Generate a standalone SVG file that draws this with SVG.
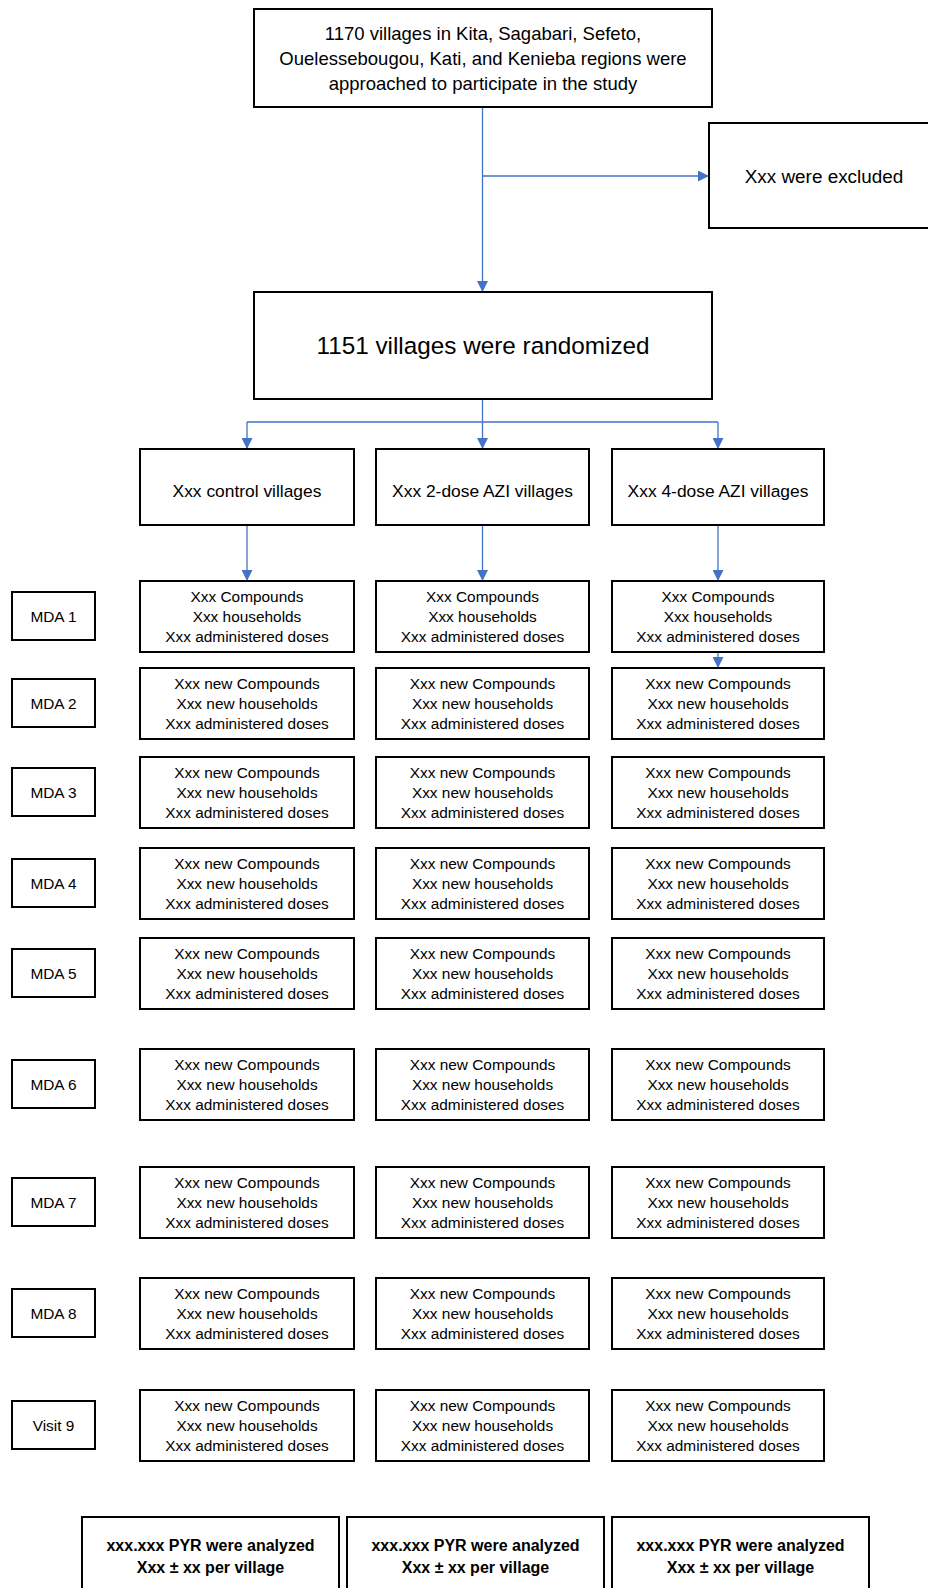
<svg xmlns="http://www.w3.org/2000/svg" width="928" height="1588" viewBox="0 0 928 1588">
<defs>
<marker id="arr" markerUnits="userSpaceOnUse" markerWidth="11" markerHeight="11" refX="11" refY="5.5" orient="auto">
<path d="M0,0 L11,5.5 L0,11 z" fill="#4472C4"/>
</marker>
<style>
.box{fill:#fff;stroke:#000;stroke-width:2}
.t{font-family:"Liberation Sans",Arial,sans-serif;fill:#000;text-anchor:middle}
.s{font-size:15.4px}
.g{font-size:17.4px}
.b{font-size:16px;font-weight:bold}
.c{fill:none;stroke:#4472C4;stroke-width:1.3}
</style>
</defs>
<rect width="928" height="1588" fill="#fff"/>

<g id="connectors">
<path class="c" d="M482.5,107 V292" marker-end="url(#arr)"/>
<path class="c" d="M482.5,176 H709" marker-end="url(#arr)"/>
<path class="c" d="M482.5,399 V449" marker-end="url(#arr)"/>
<path class="c" d="M247,422 H718"/>
<path class="c" d="M247,422 V449" marker-end="url(#arr)"/>
<path class="c" d="M718,422 V449" marker-end="url(#arr)"/>
<path class="c" d="M247,525 V581" marker-end="url(#arr)"/>
<path class="c" d="M482.5,525 V581" marker-end="url(#arr)"/>
<path class="c" d="M718,525 V581" marker-end="url(#arr)"/>
<path class="c" d="M718,651 V668" marker-end="url(#arr)"/>
</g>

<g id="approached">
<rect class="box" x="254" y="9" width="458" height="98"/>
<text class="t" font-size="18.5" x="483"><tspan x="483" y="40">1170 villages in Kita, Sagabari, Sefeto,</tspan><tspan x="483" y="65">Ouelessebougou, Kati, and Kenieba regions were</tspan><tspan x="483" y="90">approached to participate in the study</tspan></text>
</g>

<g id="excluded">
<rect class="box" x="709" y="123" width="232" height="105"/>
<text class="t" font-size="18.9" x="824" y="182.5">Xxx were excluded</text>
</g>

<g id="randomized">
<rect class="box" x="254" y="292" width="458" height="107"/>
<text class="t" font-size="24.3" x="483" y="354">1151 villages were randomized</text>
</g>

<g id="group-control">
<rect class="box" x="140" y="449" width="214" height="76"/>
<text class="t g" x="247" y="497">Xxx control villages</text>
</g>
<g id="group-2dose">
<rect class="box" x="376" y="449" width="213" height="76"/>
<text class="t g" x="482.5" y="497">Xxx 2-dose AZI villages</text>
</g>
<g id="group-4dose">
<rect class="box" x="612" y="449" width="212" height="76"/>
<text class="t g" x="718" y="497">Xxx 4-dose AZI villages</text>
</g>

<!-- Row 1 -->
<g id="label-mda1"><rect class="box" x="12" y="592" width="83" height="48"/><text class="t s" x="53.5" y="622">MDA 1</text></g>
<g id="mda1-control"><rect class="box" x="140" y="581" width="214" height="71"/><text class="t s"><tspan x="247" y="602">Xxx Compounds</tspan><tspan x="247" y="622">Xxx households</tspan><tspan x="247" y="642">Xxx administered doses</tspan></text></g>
<g id="mda1-2dose"><rect class="box" x="376" y="581" width="213" height="71"/><text class="t s"><tspan x="482.5" y="602">Xxx Compounds</tspan><tspan x="482.5" y="622">Xxx households</tspan><tspan x="482.5" y="642">Xxx administered doses</tspan></text></g>
<g id="mda1-4dose"><rect class="box" x="612" y="581" width="212" height="71"/><text class="t s"><tspan x="718" y="602">Xxx Compounds</tspan><tspan x="718" y="622">Xxx households</tspan><tspan x="718" y="642">Xxx administered doses</tspan></text></g>

<!-- Row 2 -->
<g id="label-mda2"><rect class="box" x="12" y="679" width="83" height="48"/><text class="t s" x="53.5" y="709">MDA 2</text></g>
<g id="mda2-control"><rect class="box" x="140" y="668" width="214" height="71"/><text class="t s"><tspan x="247" y="689">Xxx new Compounds</tspan><tspan x="247" y="709">Xxx new households</tspan><tspan x="247" y="729">Xxx administered doses</tspan></text></g>
<g id="mda2-2dose"><rect class="box" x="376" y="668" width="213" height="71"/><text class="t s"><tspan x="482.5" y="689">Xxx new Compounds</tspan><tspan x="482.5" y="709">Xxx new households</tspan><tspan x="482.5" y="729">Xxx administered doses</tspan></text></g>
<g id="mda2-4dose"><rect class="box" x="612" y="668" width="212" height="71"/><text class="t s"><tspan x="718" y="689">Xxx new Compounds</tspan><tspan x="718" y="709">Xxx new households</tspan><tspan x="718" y="729">Xxx administered doses</tspan></text></g>

<!-- Row 3 -->
<g id="label-mda3"><rect class="box" x="12" y="768" width="83" height="48"/><text class="t s" x="53.5" y="798">MDA 3</text></g>
<g id="mda3-control"><rect class="box" x="140" y="757" width="214" height="71"/><text class="t s"><tspan x="247" y="778">Xxx new Compounds</tspan><tspan x="247" y="798">Xxx new households</tspan><tspan x="247" y="818">Xxx administered doses</tspan></text></g>
<g id="mda3-2dose"><rect class="box" x="376" y="757" width="213" height="71"/><text class="t s"><tspan x="482.5" y="778">Xxx new Compounds</tspan><tspan x="482.5" y="798">Xxx new households</tspan><tspan x="482.5" y="818">Xxx administered doses</tspan></text></g>
<g id="mda3-4dose"><rect class="box" x="612" y="757" width="212" height="71"/><text class="t s"><tspan x="718" y="778">Xxx new Compounds</tspan><tspan x="718" y="798">Xxx new households</tspan><tspan x="718" y="818">Xxx administered doses</tspan></text></g>

<!-- Row 4 -->
<g id="label-mda4"><rect class="box" x="12" y="859" width="83" height="48"/><text class="t s" x="53.5" y="889">MDA 4</text></g>
<g id="mda4-control"><rect class="box" x="140" y="848" width="214" height="71"/><text class="t s"><tspan x="247" y="869">Xxx new Compounds</tspan><tspan x="247" y="889">Xxx new households</tspan><tspan x="247" y="909">Xxx administered doses</tspan></text></g>
<g id="mda4-2dose"><rect class="box" x="376" y="848" width="213" height="71"/><text class="t s"><tspan x="482.5" y="869">Xxx new Compounds</tspan><tspan x="482.5" y="889">Xxx new households</tspan><tspan x="482.5" y="909">Xxx administered doses</tspan></text></g>
<g id="mda4-4dose"><rect class="box" x="612" y="848" width="212" height="71"/><text class="t s"><tspan x="718" y="869">Xxx new Compounds</tspan><tspan x="718" y="889">Xxx new households</tspan><tspan x="718" y="909">Xxx administered doses</tspan></text></g>

<!-- Row 5 -->
<g id="label-mda5"><rect class="box" x="12" y="949" width="83" height="48"/><text class="t s" x="53.5" y="979">MDA 5</text></g>
<g id="mda5-control"><rect class="box" x="140" y="938" width="214" height="71"/><text class="t s"><tspan x="247" y="959">Xxx new Compounds</tspan><tspan x="247" y="979">Xxx new households</tspan><tspan x="247" y="999">Xxx administered doses</tspan></text></g>
<g id="mda5-2dose"><rect class="box" x="376" y="938" width="213" height="71"/><text class="t s"><tspan x="482.5" y="959">Xxx new Compounds</tspan><tspan x="482.5" y="979">Xxx new households</tspan><tspan x="482.5" y="999">Xxx administered doses</tspan></text></g>
<g id="mda5-4dose"><rect class="box" x="612" y="938" width="212" height="71"/><text class="t s"><tspan x="718" y="959">Xxx new Compounds</tspan><tspan x="718" y="979">Xxx new households</tspan><tspan x="718" y="999">Xxx administered doses</tspan></text></g>

<!-- Row 6 -->
<g id="label-mda6"><rect class="box" x="12" y="1060" width="83" height="48"/><text class="t s" x="53.5" y="1090">MDA 6</text></g>
<g id="mda6-control"><rect class="box" x="140" y="1049" width="214" height="71"/><text class="t s"><tspan x="247" y="1070">Xxx new Compounds</tspan><tspan x="247" y="1090">Xxx new households</tspan><tspan x="247" y="1110">Xxx administered doses</tspan></text></g>
<g id="mda6-2dose"><rect class="box" x="376" y="1049" width="213" height="71"/><text class="t s"><tspan x="482.5" y="1070">Xxx new Compounds</tspan><tspan x="482.5" y="1090">Xxx new households</tspan><tspan x="482.5" y="1110">Xxx administered doses</tspan></text></g>
<g id="mda6-4dose"><rect class="box" x="612" y="1049" width="212" height="71"/><text class="t s"><tspan x="718" y="1070">Xxx new Compounds</tspan><tspan x="718" y="1090">Xxx new households</tspan><tspan x="718" y="1110">Xxx administered doses</tspan></text></g>

<!-- Row 7 -->
<g id="label-mda7"><rect class="box" x="12" y="1178" width="83" height="48"/><text class="t s" x="53.5" y="1208">MDA 7</text></g>
<g id="mda7-control"><rect class="box" x="140" y="1167" width="214" height="71"/><text class="t s"><tspan x="247" y="1188">Xxx new Compounds</tspan><tspan x="247" y="1208">Xxx new households</tspan><tspan x="247" y="1228">Xxx administered doses</tspan></text></g>
<g id="mda7-2dose"><rect class="box" x="376" y="1167" width="213" height="71"/><text class="t s"><tspan x="482.5" y="1188">Xxx new Compounds</tspan><tspan x="482.5" y="1208">Xxx new households</tspan><tspan x="482.5" y="1228">Xxx administered doses</tspan></text></g>
<g id="mda7-4dose"><rect class="box" x="612" y="1167" width="212" height="71"/><text class="t s"><tspan x="718" y="1188">Xxx new Compounds</tspan><tspan x="718" y="1208">Xxx new households</tspan><tspan x="718" y="1228">Xxx administered doses</tspan></text></g>

<!-- Row 8 -->
<g id="label-mda8"><rect class="box" x="12" y="1289" width="83" height="48"/><text class="t s" x="53.5" y="1319">MDA 8</text></g>
<g id="mda8-control"><rect class="box" x="140" y="1278" width="214" height="71"/><text class="t s"><tspan x="247" y="1299">Xxx new Compounds</tspan><tspan x="247" y="1319">Xxx new households</tspan><tspan x="247" y="1339">Xxx administered doses</tspan></text></g>
<g id="mda8-2dose"><rect class="box" x="376" y="1278" width="213" height="71"/><text class="t s"><tspan x="482.5" y="1299">Xxx new Compounds</tspan><tspan x="482.5" y="1319">Xxx new households</tspan><tspan x="482.5" y="1339">Xxx administered doses</tspan></text></g>
<g id="mda8-4dose"><rect class="box" x="612" y="1278" width="212" height="71"/><text class="t s"><tspan x="718" y="1299">Xxx new Compounds</tspan><tspan x="718" y="1319">Xxx new households</tspan><tspan x="718" y="1339">Xxx administered doses</tspan></text></g>

<!-- Row 9 -->
<g id="label-visit9"><rect class="box" x="12" y="1401" width="83" height="48"/><text class="t s" x="53.5" y="1431">Visit 9</text></g>
<g id="visit9-control"><rect class="box" x="140" y="1390" width="214" height="71"/><text class="t s"><tspan x="247" y="1411">Xxx new Compounds</tspan><tspan x="247" y="1431">Xxx new households</tspan><tspan x="247" y="1451">Xxx administered doses</tspan></text></g>
<g id="visit9-2dose"><rect class="box" x="376" y="1390" width="213" height="71"/><text class="t s"><tspan x="482.5" y="1411">Xxx new Compounds</tspan><tspan x="482.5" y="1431">Xxx new households</tspan><tspan x="482.5" y="1451">Xxx administered doses</tspan></text></g>
<g id="visit9-4dose"><rect class="box" x="612" y="1390" width="212" height="71"/><text class="t s"><tspan x="718" y="1411">Xxx new Compounds</tspan><tspan x="718" y="1431">Xxx new households</tspan><tspan x="718" y="1451">Xxx administered doses</tspan></text></g>

<!-- Analysis -->
<g id="analysis-control"><rect class="box" x="82" y="1517" width="257" height="90"/><text class="t b"><tspan x="210.5" y="1551">xxx.xxx PYR were analyzed</tspan><tspan x="210.5" y="1573">Xxx ± xx per village</tspan></text></g>
<g id="analysis-2dose"><rect class="box" x="347" y="1517" width="257" height="90"/><text class="t b"><tspan x="475.5" y="1551">xxx.xxx PYR were analyzed</tspan><tspan x="475.5" y="1573">Xxx ± xx per village</tspan></text></g>
<g id="analysis-4dose"><rect class="box" x="612" y="1517" width="257" height="90"/><text class="t b"><tspan x="740.5" y="1551">xxx.xxx PYR were analyzed</tspan><tspan x="740.5" y="1573">Xxx ± xx per village</tspan></text></g>
</svg>
